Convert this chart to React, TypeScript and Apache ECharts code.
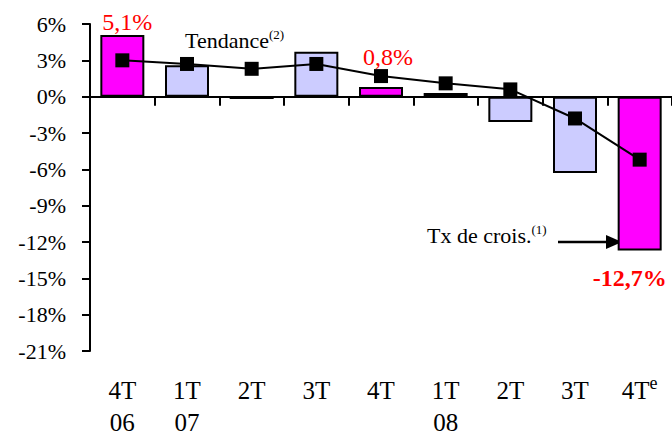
import React, { useEffect, useRef } from "react";
import * as echarts from "echarts";

const categories = ["4T06", "1T07", "2T07", "3T07", "4T07", "1T08", "2T08", "3T08", "4T08"];
const quarterLabels = ["4T", "1T", "2T", "3T", "4T", "1T", "2T", "3T", "4T"];
const yearLabels = ["06", "07", "", "", "", "08", "", "", ""];
const estimateFlags = [false, false, false, false, false, false, false, false, true];
const growthRates = [5.1, 2.6, -0.2, 3.7, 0.8, 0.3, -2.1, -6.3, -12.7];
const trend = [3.0, 2.7, 2.3, 2.7, 1.7, 1.1, 0.6, -1.8, -5.2];
const highlighted = [true, false, false, false, true, false, false, false, true];
const valueLabels = ["5,1%", "", "", "", "0,8%", "", "", "", "-12,7%"];
const yTicks = { min: -21, max: 6, interval: 3 };

const FONT = "Liberation Serif";
const MAGENTA = "#FF00FF";
const LAVENDER = "#CCCCFF";
const RED = "#FF0000";

export default function App() {
  const ref = useRef<HTMLDivElement>(null);
  useEffect(() => {
    document.body.style.margin = "0";
    if (!ref.current) return;
    const chart = echarts.init(ref.current, null, { renderer: "svg" });

    const barData = growthRates.map((v, i) => {
      const item: any = {
        value: v,
        itemStyle: { color: highlighted[i] ? MAGENTA : LAVENDER },
      };
      if (valueLabels[i]) {
        if (v < 0) {
          item.label = {
            show: true,
            position: "bottom",
            distance: 16,
            offset: [-10, 0],
            formatter: valueLabels[i],
            color: RED,
            fontSize: 24,
            fontWeight: "bold",
            fontFamily: FONT,
          };
        } else {
          item.label = {
            show: true,
            position: "top",
            distance: i === 0 ? 1 : 18,
            offset: [i === 0 ? 5 : 7, 0],
            formatter: valueLabels[i],
            color: RED,
            fontSize: 24,
            fontFamily: FONT,
          };
        }
      }
      return item;
    });

    const option: any = {
      animation: false,
      backgroundColor: "#ffffff",
      textStyle: { fontFamily: FONT },
      grid: { left: 90, top: 24, width: 585, height: 331, containLabel: false },
      xAxis: [
        {
          type: "category",
          data: categories,
          boundaryGap: true,
          axisLine: { onZero: true, lineStyle: { color: "#000", width: 2 } },
          axisTick: { show: true, length: 9, lineStyle: { color: "#000", width: 2 } },
          axisLabel: { show: false },
          splitLine: { show: false },
        },
        {
          type: "category",
          data: categories,
          position: "bottom",
          boundaryGap: true,
          axisLine: { show: false, onZero: false },
          axisTick: { show: false },
          splitLine: { show: false },
          axisLabel: {
            show: true,
            margin: 23,
            interval: 0,
            color: "#000",
            fontSize: 25,
            lineHeight: 32,
            fontFamily: FONT,
            verticalAlign: "top",
            formatter: (_v: string, idx: number) => {
              let s = quarterLabels[idx];
              if (estimateFlags[idx]) s += "{sup|e}";
              if (yearLabels[idx]) s += "\n" + yearLabels[idx];
              return s;
            },
            rich: {
              sup: { fontSize: 18, fontFamily: FONT, color: "#000", verticalAlign: "top", lineHeight: 18 },
            },
          },
        },
      ],
      yAxis: {
        type: "value",
        min: yTicks.min,
        max: yTicks.max,
        interval: yTicks.interval,
        axisLine: { show: true, lineStyle: { color: "#000", width: 2 } },
        axisTick: { show: true, length: 8, lineStyle: { color: "#000", width: 2 } },
        splitLine: { show: false },
        axisLabel: {
          margin: 24,
          color: "#000",
          fontSize: 22,
          fontFamily: FONT,
          formatter: (v: number) => `${v}%`,
        },
      },
      series: [
        {
          name: "Tx de crois.",
          type: "bar",
          data: barData,
          barWidth: 44,
          itemStyle: { borderColor: "#000", borderWidth: 2 },
          z: 2,
        },
        {
          name: "Tendance",
          type: "line",
          data: trend,
          symbol: "rect",
          symbolSize: 14,
          itemStyle: { color: "#000" },
          lineStyle: { color: "#000", width: 2 },
          z: 3,
        },
      ],
      graphic: [
        {
          type: "text",
          left: 185,
          top: 28,
          style: {
            text: "Tendance{sup|(2)}",
            fontSize: 22,
            fontFamily: FONT,
            fill: "#000",
            rich: { sup: { fontSize: 13, fontFamily: FONT, fill: "#000", verticalAlign: "top", padding: [0, 0, 12, 0] } },
          },
        },
        {
          type: "text",
          left: 427,
          top: 223,
          style: {
            text: "Tx de crois.{sup|(1)}",
            fontSize: 22,
            fontFamily: FONT,
            fill: "#000",
            rich: { sup: { fontSize: 13, fontFamily: FONT, fill: "#000", verticalAlign: "top", padding: [0, 0, 12, 0] } },
          },
        },
        {
          type: "line",
          shape: { x1: 558, y1: 242, x2: 608, y2: 242 },
          style: { stroke: "#000", lineWidth: 2.5 },
        },
        {
          type: "polygon",
          shape: { points: [[606, 235], [622, 242], [606, 249]] },
          style: { fill: "#000" },
        },
      ],
    };
    chart.setOption(option);
    return () => chart.dispose();
  }, []);
  return <div ref={ref} style={{ width: 672, height: 438 }} />;
}
